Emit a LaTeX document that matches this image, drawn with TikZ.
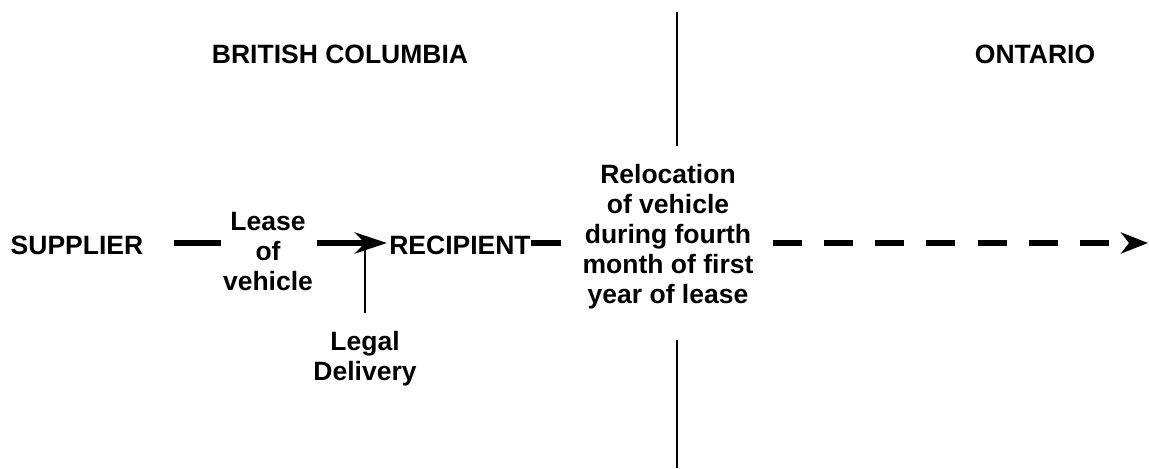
\documentclass[tikz,border=0pt]{standalone}
\usepackage{fontspec}
\setmainfont{Liberation Sans}
\usetikzlibrary{arrows.meta,calc}
\begin{document}
\begin{tikzpicture}[x=0.5pt,y=-0.5pt,
  lbl/.style={inner sep=0pt, font=\fontsize{13.25}{15}\selectfont\bfseries, align=center},
  bar/.style={line width=3.3pt},
  divider/.style={line width=1.3pt},
  leader/.style={line width=1.3pt},
  solidhead/.style={-{Stealth[length=16pt,width=10.5pt,inset=5pt]}},
  dashhead/.style={-{Stealth[length=13.5pt,width=10.5pt,inset=4pt]}},
  flowdash/.style={dash pattern=on 14.5pt off 11.1pt},
]
\useasboundingbox (0,0) rectangle (1149,468);

% region headings
\node[lbl, anchor=base] (bc) at (340,63) {BRITISH COLUMBIA};
\node[lbl, anchor=base] (on) at (1035,63) {ONTARIO};

% parties and transactions (base = baseline of the last line)
\node[lbl, anchor=base] (supplier) at (77,254) {SUPPLIER};
\node[lbl, anchor=base] (lease) at (268,290) {Lease\\of\\vehicle};
\node[lbl, anchor=base] (recipient) at (460,254) {RECIPIENT};
\node[lbl, anchor=base] (legal) at (365,380) {Legal\\Delivery};
\node[lbl, anchor=base] (reloc) at (668,303) {Relocation\\of vehicle\\during fourth\\month of first\\year of lease};

% helper points
\coordinate (axis) at (0,243);
\coordinate (divtop) at (677,12);
\coordinate (divbot) at (677,468);
\coordinate (far) at (1148,243);

% boundary between the provinces
\draw[divider] (divtop) -- ($(divtop |- reloc.north)+(0,-17)$);
\draw[divider] ($(divtop |- reloc.south)+(0,31)$) -- (divbot);

% legal delivery leader
\draw[leader] ($(legal.north)+(0,-17)$) -- (legal.north |- axis);

% supplier to recipient
\draw[bar] ($(supplier.east |- axis)+(30,0)$) -- ($(lease.west |- axis)+(-2,0)$);
\draw[bar, solidhead] ($(lease.east |- axis)+(4,0)$) -- ($(recipient.west |- axis)+(-2,0)$);

% recipient onwards to Ontario
\draw[bar] (recipient.east |- axis) -- ($(reloc.west |- axis)+(-21,0)$);
\draw[bar, flowdash, dashhead] ($(reloc.east |- axis)+(19,0)$) -- (far);
\end{tikzpicture}
\end{document}
